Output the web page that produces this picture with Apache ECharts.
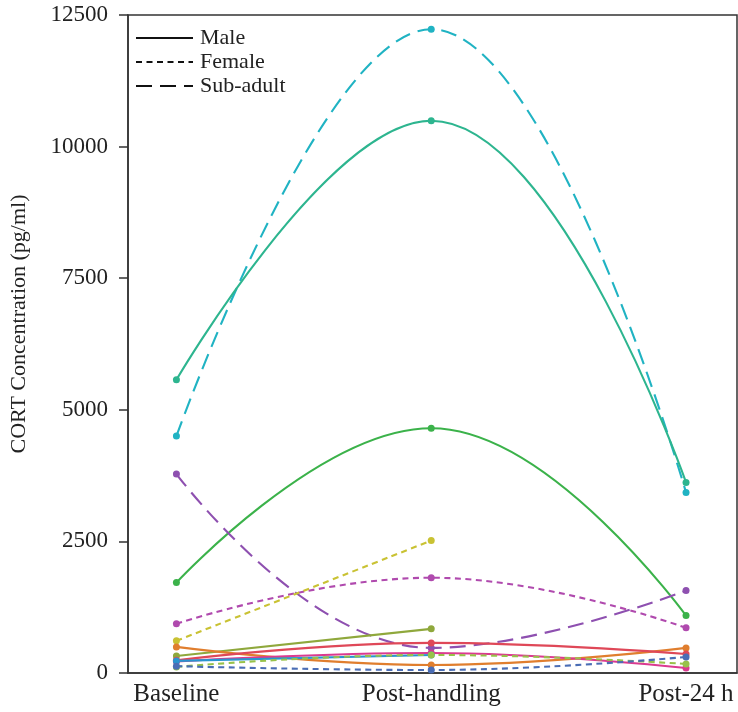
<!DOCTYPE html>
<html>
<head>
<meta charset="utf-8">
<script src="https://cdn.jsdelivr.net/npm/echarts@6/dist/echarts.min.js"></script>
<style>
html,body{margin:0;padding:0;background:#fff;}
#chart{width:738px;height:712px;}
</style>
</head>
<body>
<div id="chart"></div>
<script>
const categories = ['Baseline', 'Post-handling', 'Post-24 h'];
const yTicks = [0, 2500, 5000, 7500, 10000, 12500];

// individual CORT series (pg/ml): Baseline, Post-handling, Post-24 h
const subAdultCyan   = [4500, 12230, 3430];
const maleTeal       = [5570, 10490, 3620];
const maleGreen      = [1717, 4650, 1090];
const subAdultPurple = [3780, 477, 1565];
const femaleMagenta  = [935, 1810, 858];
const femaleYellow   = [611, 2515, null];
const maleOlive      = [324, 839, null];
const maleOrange     = [496, 153, 477];
const maleRed        = [240, 572, 362];
const malePink       = [220, 381, 95];
const maleBlue       = [230, 343, null];
const femaleLime     = [115, 343, 172];
const femaleNavy     = [130, 57, 305];

const legendNames = ['Male', 'Female', 'Sub-adult'];

const styles = {
  'Male': {type: 'solid'},
  'Female': {type: [6, 4.5]},
  'Sub-adult': {type: [16, 8]}
};

const individuals = [
  {data: subAdultCyan, group: 'Sub-adult', color: '#20b3c3'},
  {data: maleTeal, group: 'Male', color: '#2db58f'},
  {data: maleGreen, group: 'Male', color: '#3bb24a'},
  {data: subAdultPurple, group: 'Sub-adult', color: '#8e50b0'},
  {data: femaleMagenta, group: 'Female', color: '#b04aae'},
  {data: femaleYellow, group: 'Female', color: '#c9c233'},
  {data: maleOlive, group: 'Male', color: '#8fa83c'},
  {data: maleOrange, group: 'Male', color: '#e07e2e'},
  {data: maleRed, group: 'Male', color: '#df4858'},
  {data: malePink, group: 'Male', color: '#db3a90'},
  {data: maleBlue, group: 'Male', color: '#2a95cf'},
  {data: femaleLime, group: 'Female', color: '#98c24a'},
  {data: femaleNavy, group: 'Female', color: '#4a6db5'}
];

const serif = '"Liberation Serif", "DejaVu Serif", serif';

const series = [];
individuals.forEach((ind, i) => {
  const pts = [];
  ind.data.forEach((v, k) => { if (v !== null) pts.push([k, v]); });
  series.push({
    type: 'line',
    name: 'ind' + i,
    data: pts,
    smooth: 0.45,
    symbol: 'circle',
    symbolSize: 7,
    color: ind.color,
    lineStyle: {width: 2.1, type: styles[ind.group].type, color: ind.color},
    itemStyle: {color: ind.color},
    z: 3
  });
});
legendNames.forEach(n => {
  series.push({
    type: 'line',
    name: n,
    data: [],
    symbol: 'none',
    color: '#111',
    lineStyle: {width: 2, type: styles[n].type, color: '#111'}
  });
});

const chart = echarts.init(document.getElementById('chart'), null, {renderer: 'canvas'});
chart.setOption({
  animation: false,
  backgroundColor: '#fff',
  grid: {left: 128, right: 1, top: 15, bottom: 39, show: true, borderColor: '#333', borderWidth: 1.5, containLabel: false},
  legend: {
    data: legendNames,
    orient: 'vertical',
    left: 130,
    top: 22,
    itemWidth: 57,
    itemHeight: 14,
    itemGap: 2,
    itemStyle: {opacity: 0},
    textStyle: {fontFamily: serif, fontSize: 22, color: '#222', padding: [0, 0, 0, 2]}
  },
  xAxis: {
    type: 'value',
    min: -0.19,
    max: 2.2,
    splitLine: {show: false},
    axisLine: {show: true, onZero: false, lineStyle: {color: '#333', width: 1.5}},
    axisTick: {show: false},
    axisLabel: {
      customValues: [0, 1, 2],
      formatter: v => categories[Math.round(v)],
      fontFamily: serif, fontSize: 25, color: '#222', margin: 9
    }
  },
  yAxis: {
    type: 'value',
    min: 0,
    max: 12500,
    interval: 2500,
    name: 'CORT Concentration (pg/ml)',
    nameLocation: 'middle',
    nameGap: 98,
    nameTextStyle: {fontFamily: serif, fontSize: 22, color: '#222', padding: [0, 0, 0, 40]},
    splitLine: {show: false},
    axisLine: {show: true, onZero: false, lineStyle: {color: '#333', width: 1.5}},
    axisTick: {show: true, inside: false, length: 9, lineStyle: {color: '#333', width: 1.5}},
    axisLabel: {fontFamily: serif, fontSize: 23, color: '#222', margin: 20, formatter: v => String(v)}
  },
  series: series
});
</script>
</body>
</html>
